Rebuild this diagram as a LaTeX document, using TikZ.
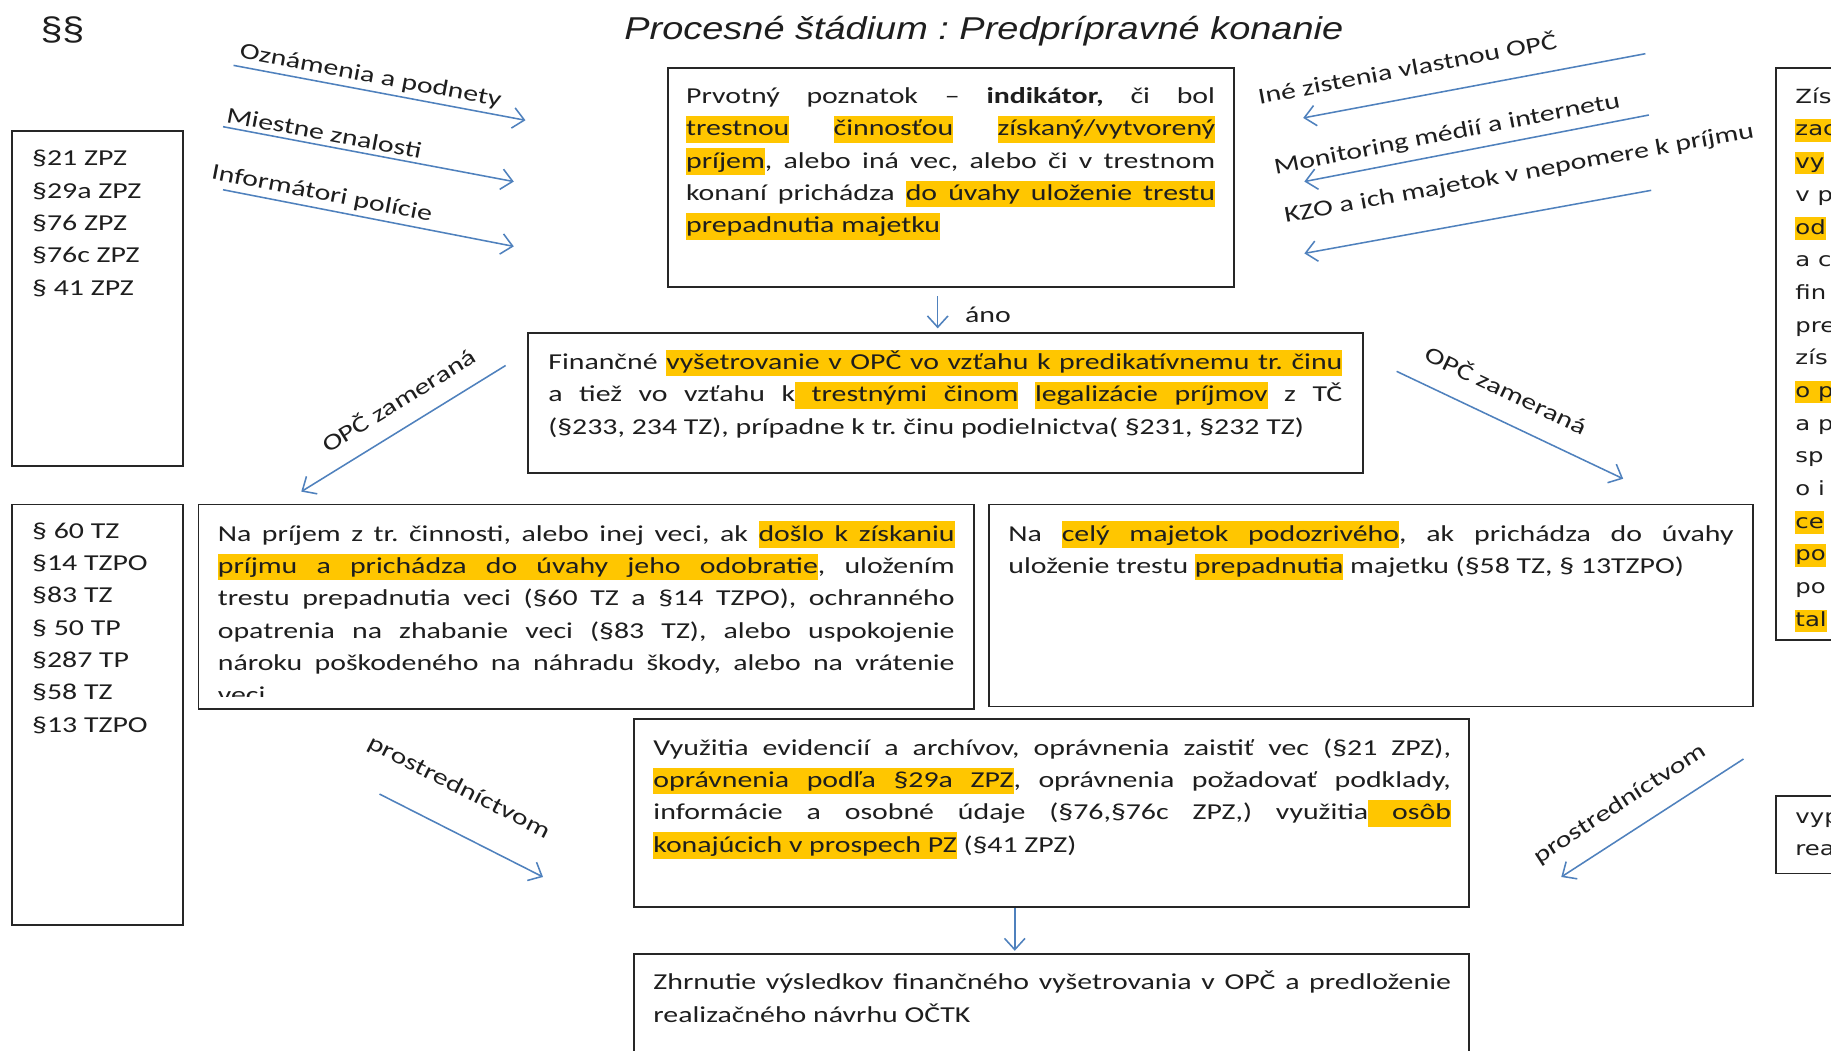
\documentclass[tikz,border=0pt]{standalone}
\usepackage{fontspec}
\usepackage{xcolor}
\usepackage{tikz}
\usetikzlibrary{arrows.meta}
\setmainfont{Carlito}[FakeStretch=1.31]
\newfontfamily\titlefont{Liberation Sans}[FakeStretch=1.2]
\newfontfamily\sidefont{DejaVu Sans}[FakeStretch=1.25]
\definecolor{ink}{HTML}{1E1E1E}
\definecolor{frame}{HTML}{262626}
\definecolor{arrowblue}{HTML}{4F81BD}
\definecolor{hly}{HTML}{FFC600}
\frenchspacing
\hyphenpenalty=10000
\exhyphenpenalty=10000
\tolerance=10000
\newcommand\bodysize{\fontsize{11.1}{15.76}\selectfont}
\newcommand\sidesize{\fontsize{9.5}{15.93}\selectfont}
\newcommand\titlesize{\fontsize{15.4}{18}\selectfont\itshape}
\newcommand\hlbox[1]{{\fboxsep=0pt\colorbox{hly}{\rule[-.3em]{0pt}{1.16em}#1}}}
\newcommand\hlsp{{\color{hly}\leaders\hrule height .86em depth .3em\hskip\fontdimen2\font plus\fontdimen3\font minus\fontdimen4\font}}
\def\hl#1{\hlnext#1 \hlstop}
\def\hlnext#1 #2\hlstop{\hlbox{#1}\ifx\hlstop#2\hlstop\else\hlsp\hlnext#2\hlstop\fi}
\tikzset{
  box/.style={draw=frame, line width=0.9pt, inner sep=0pt},
  para/.style={anchor=north west, inner sep=0pt, text=ink, execute at begin node={\rule{0pt}{.82em}}},
  txt/.style={para, font=\bodysize, align=justify},
  lst/.style={para, font=\bodysize, align=left},
  side/.style={para, font=\sidefont\sidesize, align=left},
  arr/.style={draw=arrowblue, line width=0.75pt, -{Straight Barb[length=5.5pt,width=10pt]}},
  lab/.style={text=ink, font=\bodysize, inner sep=1pt},
  ttl/.style={text=ink, font=\titlefont\titlesize, anchor=base},
}
\begin{document}
\begin{tikzpicture}
  \useasboundingbox (0,0) rectangle (31.36,18);
  \clip (0,0) rectangle (31.36,18);
  \fill[white] (0,0) rectangle (31.36,18);

  \node[ttl] (title) at (16.85,17.33) {Procesné štádium : Predprípravné konanie};
  \node[ttl, font=\titlefont\fontsize{16}{19}\selectfont] (paras) at (1.07,17.3) {§§};

  \node[box, minimum width=2.94cm, minimum height=5.74cm] (zpz) at (1.67,12.89) {};
  \node[lst] (zpzt) at ([shift={(0.36,-0.34)}]zpz.north west)
    {§21 ZPZ\\ §29a ZPZ\\ §76 ZPZ\\ §76c ZPZ\\ § 41 ZPZ};
  \node[box, minimum width=2.94cm, minimum height=7.2cm] (tz) at (1.67,5.76) {};
  \node[lst] (tzt) at ([shift={(0.36,-0.32)}]tz.north west)
    {§ 60 TZ\\ §14 TZPO\\ §83 TZ\\ § 50 TP\\ §287 TP\\ §58 TZ\\ §13 TZPO};

  \node[box, minimum width=9.7cm, minimum height=3.76cm] (poz) at (16.29,14.96) {};
  \node[txt, text width=9.06cm] (pozt) at ([shift={(0.32,-0.3)}]poz.north west)
    {Prvotný poznatok – \textbf{indikátor,} či bol\linebreak
     \hl{trestnou} \hl{činnosťou} \hl{získaný/vytvorený}\linebreak
     \hl{príjem}, alebo iná vec, alebo či v trestnom\linebreak
     konaní prichádza \hl{do úvahy uloženie trestu}\linebreak
     \hl{prepadnutia majetku}};

  \node[box, minimum width=14.3cm, minimum height=2.4cm] (fin) at (16.19,11.1) {};
  \node[txt, text width=13.6cm] (fint) at ([shift={(0.36,-0.3)}]fin.north west)
    {Finančné \hl{vyšetrovanie v OPČ vo vzťahu k predikatívnemu tr. činu}\linebreak
     a tiež vo vzťahu k\hlsp\hl{trestnými činom} \hl{legalizácie príjmov} z TČ\linebreak
     (§233, 234 TZ), prípadne k tr. činu podielnictva( §231, §232 TZ)};

  \node[box, minimum width=13.28cm, minimum height=3.5cm] (prij) at (10.04,7.61) {};
  \begin{scope}
    \clip (prij.north west) rectangle ([yshift=0.22cm]prij.south east);
    \node[txt, text width=12.62cm] (prijt) at ([shift={(0.34,-0.3)}]prij.north west)
      {Na príjem z tr. činnosti, alebo inej veci, ak \hl{došlo k získaniu}\linebreak
       \hl{príjmu a prichádza do úvahy jeho odobratie}, uložením\linebreak
       trestu prepadnutia veci (§60 TZ a §14 TZPO), ochranného\linebreak
       opatrenia na zhabanie veci (§83 TZ), alebo uspokojenie\linebreak
       nároku poškodeného na náhradu škody, alebo na vrátenie\linebreak
       veci};
  \end{scope}

  \node[box, minimum width=13.08cm, minimum height=3.46cm] (maj) at (23.48,7.63) {};
  \node[txt, text width=12.42cm] (majt) at ([shift={(0.34,-0.3)}]maj.north west)
    {Na \hl{celý majetok podozrivého}, ak prichádza do úvahy\linebreak
     uloženie trestu \hl{prepadnutia} majetku (§58 TZ, § 13TZPO)};

  \node[box, minimum width=14.3cm, minimum height=3.22cm] (vyuz) at (18.01,4.07) {};
  \node[txt, text width=13.66cm] (vyuzt) at ([shift={(0.34,-0.3)}]vyuz.north west)
    {Využitia evidencií a archívov, oprávnenia zaistiť vec (§21 ZPZ),\linebreak
     \hl{oprávnenia podľa §29a ZPZ}, oprávnenia požadovať podklady,\linebreak
     informácie a osobné údaje (§76,§76c ZPZ,) využitia\hlsp\hl{osôb}\linebreak
     \hl{konajúcich v prospech PZ} (§41 ZPZ)};

  \node[box, minimum width=14.3cm, minimum height=2.26cm] (zhr) at (18.01,0.53) {};
  \node[txt, text width=13.66cm] (zhrt) at ([shift={(0.34,-0.3)}]zhr.north west)
    {Zhrnutie výsledkov finančného vyšetrovania v OPČ a predloženie\linebreak
     realizačného návrhu OČTK};

  \node[box, minimum width=2.18cm, minimum height=9.8cm] (zisk) at (31.51,11.94) {};
  \node[side] (ziskt) at ([shift={(0.34,-0.35)}]zisk.north west)
    {Zís\\ \hlbox{zac}\\ \hlbox{vy}\\ v p\\ \hlbox{od}\\ a c\\ fin\\ pre\\ zís\\
     \hlbox{o p}\\ a p\\ sp\\ o i\\ \hlbox{ce}\\ \hlbox{po}\\ po\\ \hlbox{tal}};
  \node[box, minimum width=2.18cm, minimum height=1.32cm] (vyp) at (31.51,3.7) {};
  \node[side] (vypt) at ([shift={(0.34,-0.28)}]vyp.north west) {vyp\\ rea};

  \coordinate (a1s) at (4.0,16.88);   \coordinate (a1e) at (9.0,15.94);
  \coordinate (a2s) at (3.82,15.83);  \coordinate (a2e) at (8.8,14.89);
  \coordinate (a3s) at (3.82,14.75);  \coordinate (a3e) at (8.8,13.78);
  \coordinate (b1s) at (28.18,17.08); \coordinate (b1e) at (22.32,15.98);
  \coordinate (b2s) at (28.24,16.03); \coordinate (b2e) at (22.34,14.89);
  \coordinate (b3s) at (28.28,14.74); \coordinate (b3e) at (22.34,13.66);
  \coordinate (c1s) at (8.66,11.74);  \coordinate (c1e) at (5.16,9.58);
  \coordinate (c2s) at (23.92,11.64); \coordinate (c2e) at (27.8,9.8);
  \coordinate (d1s) at (6.5,4.4);     \coordinate (d1e) at (9.3,2.98);
  \coordinate (d2s) at (29.86,5.0);   \coordinate (d2e) at (26.74,2.98);
  \coordinate (anox) at (16.06,0);
  \coordinate (vzx) at (17.38,0);

  \draw[arr] (a1s) -- node[lab, sloped, above=1pt, pos=.46] (a1l) {Oznámenia a podnety} (a1e);
  \draw[arr] (a2s) -- node[lab, sloped, above=1pt, pos=.34] (a2l) {Miestne znalosti} (a2e);
  \draw[arr] (a3s) -- node[lab, sloped, above=1pt, pos=.33] (a3l) {Informátori polície} (a3e);
  \draw[arr] (b1s) -- node[lab, sloped, above=9pt, pos=.68] (b1l) {Iné zistenia vlastnou OPČ} (b1e);
  \draw[arr] (b2s) -- node[lab, sloped, above=3pt, pos=.575] (b2l) {Monitoring médií a internetu} (b2e);
  \draw[arr] (b3s) -- node[lab, sloped, above=13pt, pos=.36] (b3l) {KZO a ich majetok v nepomere k príjmu} (b3e);
  \draw[arr] (c1s) -- node[lab, sloped, above=7.5pt, pos=.455] (c1l) {OPČ zameraná} (c1e);
  \draw[arr] (c2s) -- node[lab, sloped, above=9pt, pos=.426] (c2l) {OPČ zameraná} (c2e);
  \draw[arr] (d1s) -- node[lab, sloped, above=14pt, pos=.37] (d1l) {prostredníctvom} (d1e);
  \draw[arr] (d2s) -- node[lab, sloped, above=8pt, pos=.59] (d2l) {prostredníctvom} (d2e);

  \draw[arr, shorten <=0.14cm, shorten >=0.06cm] (poz.south -| anox) --
    node[lab, pos=.6, right=0.42cm] (ano) {áno} (fin.north -| anox);
  \draw[arr, shorten >=0.04cm] (vyuz.south -| vzx) -- (zhr.north -| vzx);
\end{tikzpicture}
\end{document}
